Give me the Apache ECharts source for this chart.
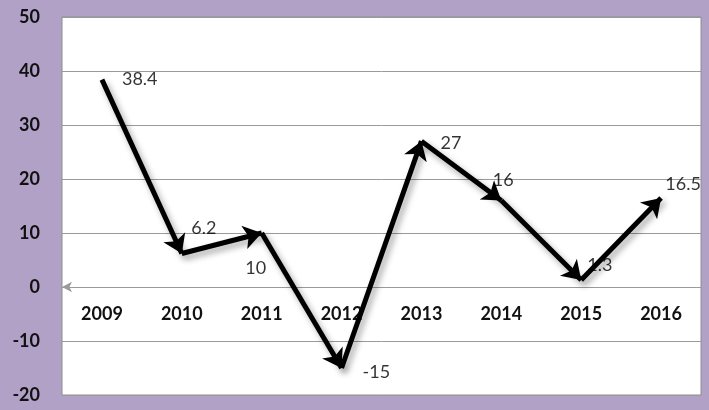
<!DOCTYPE html>
<html><head><meta charset="utf-8">
<script src="https://cdn.jsdelivr.net/npm/echarts@6/dist/echarts.min.js"></script>
<style>html,body{margin:0;padding:0;background:#B2A1C7;}#c{width:709px;height:410px;}</style>
</head><body><div id="c"></div>
<script>
const categories = ['2009','2010','2011','2012','2013','2014','2015','2016'];
const values = [38.4, 6.2, 10, -15, 27, 16, 1.3, 16.5];
const yTicks = [-20, -10, 0, 10, 20, 30, 40, 50];

// label placement (style config)
const labelCfg = [
  {position:'right', offset:[15,0]},
  {position:'top', offset:[22,-11]},
  {position:'bottom', offset:[-6,21]},
  {position:'right', offset:[16,4]},
  {position:'right', offset:[14,2]},
  {position:'top', offset:[2,-6]},
  {position:'right', offset:[1,-15]},
  {position:'top', offset:[22,0]}
];

const G = {left:62, right:8, top:17, bottom:15, h:410};
const yMin = yTicks[0], yMax = yTicks[yTicks.length-1];
const plotH = G.h - G.top - G.bottom;
const zeroOffset = -plotH * (0 - yMin) / (yMax - yMin);

const segs = [];
for (let i = 1; i < values.length; i++) {
  segs.push({coords: [[i-1, values[i-1]], [i, values[i]]]});
}
const pts = values.map((v,i)=>({value:[i, v], label:Object.assign({show:true}, labelCfg[i])}));

const chart = echarts.init(document.getElementById('c'));
chart.setOption({
  backgroundColor:'#B2A1C7',
  animation:false,
  grid:{left:G.left,right:G.right,top:G.top,bottom:G.bottom,containLabel:false,outerBoundsMode:'none',
    show:true,backgroundColor:'#ffffff',borderColor:'#8c8c8c',borderWidth:1},
  xAxis:{type:'category',data:categories,boundaryGap:true,position:'bottom',offset:zeroOffset,
    axisLine:{onZero:false,symbol:['arrow','none'],symbolSize:[8,10],lineStyle:{color:'#9a9a9a',width:1}},
    axisTick:{show:false},
    axisLabel:{margin:18,fontFamily:'Lato',fontWeight:'bold',fontSize:18,color:'#111'}},
  yAxis:{type:'value',min:yMin,max:yMax,interval:10,
    axisLine:{show:false},axisTick:{show:false},
    splitLine:{lineStyle:{color:'#9a9a9a',width:1}},
    axisLabel:{margin:22,fontFamily:'Lato',fontWeight:'bold',fontSize:18,color:'#111'}},
  series:[
    {type:'lines',coordinateSystem:'cartesian2d',z:3,
     symbol:['none','arrow'],symbolSize:18,
     lineStyle:{color:'#000',width:5,opacity:1,curveness:0,
       shadowColor:'rgba(0,0,0,0.35)',shadowBlur:6,shadowOffsetX:3,shadowOffsetY:4},
     data:segs},
    {type:'scatter',symbolSize:0,z:4,data:pts,
     label:{show:true,color:'#000',fontFamily:'Lato',fontSize:18,formatter:p=>String(p.value[1])}}
  ]
});
</script></body></html>
